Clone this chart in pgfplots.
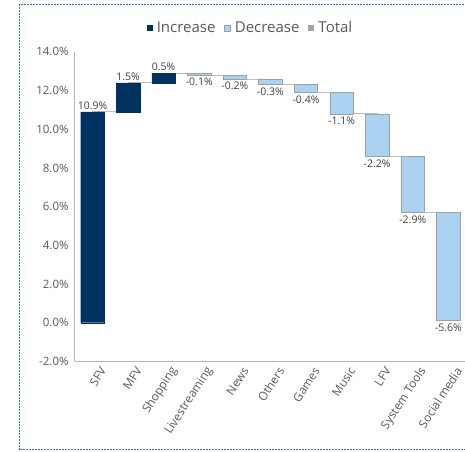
\documentclass[border=0pt]{standalone}
\usepackage{pgfplots}
\pgfplotsset{compat=1.18}
\usepackage{fontspec}
\setmainfont{Open Sans}
\definecolor{inc}{RGB}{0,50,96}
\definecolor{dec}{RGB}{171,210,240}
\definecolor{decedge}{RGB}{160,160,160}
\definecolor{tot}{RGB}{165,165,165}
\definecolor{conn}{RGB}{191,191,191}
\definecolor{axisgray}{RGB}{180,180,180}
\definecolor{ticktext}{RGB}{89,89,89}
\definecolor{labeltext}{RGB}{64,64,64}
\definecolor{framecol}{RGB}{46,117,182}
\pgfplotsset{
  wfbase/.style={
    scale only axis, width=391.4pt, height=309.5pt,
    at={(74.7pt,89.6pt)}, anchor=south west,
    xmin=-0.5, xmax=10.5, ymin=-2, ymax=14,
  },
  wflabel/.style={
    point meta=explicit,
    nodes near coords={\pgfmathprintnumber[fixed,fixed zerofill,precision=1,assume math mode=true]{\pgfplotspointmeta}\%},
    every node near coord/.append style={font=\fontsize{10.5}{12}\selectfont, text=labeltext},
  },
}
\begin{document}
\begin{tikzpicture}[x=1pt,y=1pt]
\useasboundingbox (0,0) rectangle (465,451);
\draw[framecol, dash pattern=on 2pt off 1pt, line width=0.8pt] (19.2,1.2) rectangle (480,446.3);
% axis, connectors, labels, legend
\begin{axis}[wfbase,
  axis x line*=bottom, axis y line*=left,
  axis line style={-, axisgray, line width=0.8pt},
  major tick length=0pt,
  ytick={-2,0,2,4,6,8,10,12,14},
  yticklabel={\pgfmathprintnumber[fixed,fixed zerofill,precision=1,assume math mode=true]{\tick}\%},
  yticklabel style={font=\fontsize{11.5}{13}\selectfont, text=ticktext, xshift=-2.6pt},
  xtick={0,1,2,3,4,5,6,7,8,9,10},
  xticklabels={SFV,MFV,Shopping,Livestreaming,News,Others,Games,Music,LFV,System Tools,Social media},
  xticklabel style={font=\fontsize{11.8}{13}\selectfont, text=ticktext, rotate=57, anchor=east, inner sep=0pt, yshift=-13pt, xshift=0pt},
  legend columns=-1,
  legend style={at={(axis description cs:0.4466,1.078)}, anchor=center, draw=none, fill=none,
    font=\fontsize{15}{17}\selectfont, text=ticktext,
    nodes={inner xsep=0pt, inner ysep=1pt},
    /tikz/every odd column/.append style={column sep=4pt},
    /tikz/every even column/.append style={column sep=9pt}},
  legend image code/.code={\path[#1] (0pt,-3pt) rectangle (6pt,3pt);},
]
\addplot[const plot, conn, line width=0.9pt, forget plot, no markers] coordinates {
  (0,10.9) (1,12.4) (2,12.9) (3,12.8) (4,12.6) (5,12.3) (6,11.9) (7,10.8) (8,8.6) (9,5.7) (10,0.1)};
\addlegendimage{fill=inc, draw=none}
\addlegendentry{Increase}
\addlegendimage{fill=dec, draw=decedge, line width=0.4pt}
\addlegendentry{Decrease}
\addlegendimage{fill=tot, draw=none}
\addlegendentry{Total}
% value labels: above the top of increases, below the bottom of decreases
\addplot[draw=none, forget plot, wflabel,
  every node near coord/.append style={anchor=south, inner sep=2pt}]
  coordinates {(0,10.9) [10.9] (1,12.4) [1.5] (2,12.9) [0.5]};
\addplot[draw=none, forget plot, wflabel,
  every node near coord/.append style={anchor=north, inner sep=3pt}]
  coordinates {(3,12.8) [-0.1] (4,12.6) [-0.2] (5,12.3) [-0.3] (6,11.9) [-0.4] (7,10.8) [-1.1] (8,8.6) [-2.2] (9,5.7) [-2.9] (10,0.1) [-5.6]};
\end{axis}
% increase bars
\begin{axis}[wfbase, hide axis, ybar stacked, bar width=23.5pt]
\addplot[draw=none, fill=none] coordinates {(0,0) (1,10.9) (2,12.4)};
\addplot[fill=inc, draw=inc, line width=0.2pt]
  coordinates {(0,10.9) (1,1.5) (2,0.5)};
\end{axis}
% decrease bars
\begin{axis}[wfbase, hide axis, ybar stacked, bar width=23.5pt]
\addplot[draw=none, fill=none]
  coordinates {(3,12.8) (4,12.6) (5,12.3) (6,11.9) (7,10.8) (8,8.6) (9,5.7) (10,0.1)};
\addplot[fill=dec, draw=decedge, line width=0.6pt]
  coordinates {(3,0.1) (4,0.2) (5,0.3) (6,0.4) (7,1.1) (8,2.2) (9,2.9) (10,5.6)};
\end{axis}
\end{tikzpicture}
\end{document}
